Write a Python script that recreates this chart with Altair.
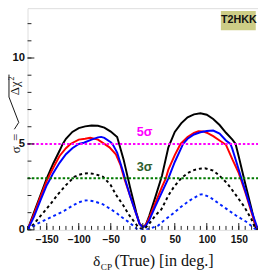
import altair as alt
import pandas as pd

# ---------------- data ----------------
black_solid_x = [-180, -170, -160, -150, -140, -130, -125, -120, -110, -100, -90, -80, -70, -60, -50, -40, -30, -20, -10, -5, 0,
                 5, 10, 20, 30, 40, 50, 60, 70, 80, 90, 100, 110, 120, 130, 140, 145, 150, 160, 170, 177, 180]
black_solid_y = [0.0, 1.0, 2.0, 3.0, 3.85, 4.6, 5.0, 5.3, 5.7, 5.92, 6.02, 6.07, 6.06, 5.95, 5.72, 5.4, 4.1, 2.5, 1.0, 0.35, 0.15,
                 0.3, 0.8, 1.95, 3.15, 4.8, 5.7, 6.2, 6.55, 6.72, 6.78, 6.7, 6.45, 6.1, 5.65, 5.25, 5.0, 4.25, 2.7, 1.2, 0.05, 0.0]

red_solid_x = [-180, -170, -160, -150, -140, -130, -120, -113, -100, -90, -82, -70, -60, -52, -42, -35, -29, -20, -10, -5, 0,
               5, 10, 20, 30, 36, 40, 50, 59, 70, 80, 87, 95, 100, 110, 120, 130, 140, 150, 160, 170, 175, 180]
red_solid_y = [0.0, 0.9, 1.9, 2.85, 3.6, 4.3, 4.75, 5.0, 5.25, 5.3, 5.36, 5.25, 5.0, 4.8, 4.4, 3.8, 3.0, 2.0, 0.9, 0.35, 0.15,
               0.3, 0.7, 1.6, 2.5, 3.0, 3.5, 4.35, 5.0, 5.4, 5.65, 5.74, 5.72, 5.65, 5.45, 5.2, 4.95, 4.1, 3.3, 2.2, 1.0, 0.4, 0.0]

blue_solid_x = [-180, -170, -160, -150, -144, -140, -130, -120, -110, -100, -92, -80, -70, -65, -60, -50, -47, -40, -30, -28, -20, -10, -5, 0,
                5, 10, 20, 30, 40, 50, 63, 70, 80, 90, 100, 110, 120, 130, 137, 140, 150, 154, 160, 170, 180]
blue_solid_y = [0.0, 0.75, 1.7, 2.6, 3.0, 3.3, 3.9, 4.4, 4.75, 5.0, 5.07, 5.25, 5.38, 5.41, 5.35, 5.1, 4.98, 4.5, 3.3, 3.0, 2.0, 0.9, 0.35, 0.15,
                0.25, 0.55, 1.4, 2.2, 3.0, 3.95, 5.0, 5.3, 5.55, 5.68, 5.75, 5.78, 5.6, 5.2, 5.0, 4.7, 3.5, 3.0, 2.3, 1.1, 0.0]

black_dash_x = [-180, -170, -160, -153, -140, -133, -120, -107, -100, -92, -85, -75, -62, -50, -42, -30, -22, -10, -5, 0,
                5, 10, 20, 29, 40, 49, 60, 70, 80, 89, 97, 110, 120, 132, 145, 158, 170, 175, 180]
black_dash_y = [0.0, 0.35, 0.8, 1.1, 1.7, 2.05, 2.6, 3.08, 3.2, 3.28, 3.3, 3.25, 3.09, 2.6, 2.05, 1.4, 0.9, 0.3, 0.1, 0.05,
                0.15, 0.35, 0.85, 1.19, 2.0, 2.52, 3.0, 3.3, 3.48, 3.56, 3.58, 3.45, 3.15, 2.7, 2.05, 1.38, 0.6, 0.15, 0.0]

blue_dash_x = [-180, -175, -165, -153, -140, -123, -110, -100, -92, -85, -75, -62, -50, -40, -32, -20, -9, 0,
               10, 24, 35, 49, 60, 75, 89, 94, 105, 120, 132, 145, 163, 177, 180]
blue_dash_y = [0.0, 0.1, 0.35, 0.57, 0.8, 1.1, 1.4, 1.6, 1.7, 1.72, 1.65, 1.48, 1.2, 0.95, 0.72, 0.4, 0.05, 0.0,
               0.05, 0.25, 0.6, 1.0, 1.35, 1.75, 2.05, 2.07, 1.9, 1.5, 1.19, 0.85, 0.44, 0.0, 0.0]

sigma_levels = [5, 3]
sigma_labels = ["5σ", "3σ"]
sigma_line_colors = ["#ff00ff", "#007a00"]
sigma_text_colors = ["#ff00ff", "#2e5e2e"]

x_labels = [-150, -100, -50, 0, 50, 100, 150]
y_labels = [0, 5, 10]
x_minor = list(range(-180, 181, 10))
y_minor = list(range(0, 13))

X_DOMAIN = [-180, 180]
Y_DOMAIN = [0, 12.9]
W, H = 236, 227

LABEL_FONT = "Liberation Sans, Arial"
SERIF = "Liberation Serif, Times New Roman, serif"

xs = alt.Scale(domain=X_DOMAIN, nice=False, zero=False)
ys = alt.Scale(domain=Y_DOMAIN, nice=False, zero=False)

X_AXIS = alt.Axis(values=x_labels, title=None, grid=False, domain=False, ticks=False,
                  labelOverlap=False, labelFlush=False, labelBound=False,
                  labelFont=LABEL_FONT, labelFontSize=10.5, labelFontWeight="bold",
                  labelColor="#111", labelPadding=5)
Y_AXIS = alt.Axis(values=y_labels, title=None, grid=False, domain=False, ticks=False,
                  labelOverlap=False, labelFlush=False, labelBound=False,
                  labelFont=LABEL_FONT, labelFontSize=11.5, labelFontWeight="bold",
                  labelColor="#111", labelPadding=3)


def X(field):
    return alt.X(field, scale=xs, axis=X_AXIS)


def Y(field):
    return alt.Y(field, scale=ys, axis=Y_AXIS)


def curve(xv, yv, color, dash=None):
    df = pd.DataFrame({"d": xv, "s": yv})
    kw = dict(color=color, strokeWidth=2, clip=True)
    if dash:
        kw["strokeDash"] = dash
    return alt.Chart(df).mark_line(**kw).encode(x=X("d:Q"), y=Y("s:Q"))


layers = []
layers.append(curve(black_solid_x, black_solid_y, "#000000"))
layers.append(curve(red_solid_x, red_solid_y, "#ff0000"))
layers.append(curve(blue_solid_x, blue_solid_y, "#0000ff"))
layers.append(curve(black_dash_x, black_dash_y, "#000000", [3, 3]))
layers.append(curve(blue_dash_x, blue_dash_y, "#0022ff", [3, 3]))

# sigma reference lines
for lvl, col in zip(sigma_levels, sigma_line_colors):
    layers.append(alt.Chart(pd.DataFrame({"a": [X_DOMAIN[0]], "b": [X_DOMAIN[1]], "s": [lvl]})).mark_rule(
        color=col, strokeWidth=2, strokeDash=[2.5, 2]).encode(x=X("a:Q"), x2="b:Q", y=Y("s:Q")))

# sigma labels
lab_df = pd.DataFrame({"d": [-9.5, -9.5], "s": [5.68, 3.64], "t": sigma_labels, "c": sigma_text_colors})
layers.append(alt.Chart(lab_df).mark_text(align="left", baseline="middle", font="Liberation Sans", fontSize=13,
                                          fontWeight="bold").encode(
    x=X("d:Q"), y=Y("s:Q"), text="t:N", color=alt.Color("c:N", scale=None)))

# inside ticks
def xticks(vals, length):
    return alt.Chart(pd.DataFrame({"d": vals})).mark_rule(color="#222", strokeWidth=1).encode(
        x=X("d:Q"), y=alt.value(H), y2=alt.value(H - length))

def yticks(vals, length):
    return alt.Chart(pd.DataFrame({"s": vals})).mark_rule(color="#222", strokeWidth=1).encode(
        y=Y("s:Q"), x=alt.value(0), x2=alt.value(length))

layers.append(xticks(x_minor, 4))
layers.append(xticks(x_labels, 7))
layers.append(yticks(y_minor, 4))
layers.append(yticks(y_labels, 7))

# experiment label box
box_df = pd.DataFrame({"x1": [122.0], "x2": [176.5], "y1": [11.62], "y2": [12.73], "t": ["T2HKK"]})
layers.append(alt.Chart(box_df).mark_rect(color="#cdcd86").encode(
    x=X("x1:Q"), x2="x2:Q", y=Y("y1:Q"), y2="y2:Q"))
layers.append(alt.Chart(box_df).mark_text(font=LABEL_FONT, fontSize=11, fontWeight="bold", color="#111",
                                          baseline="middle").encode(
    x=alt.value((198 + 235) / 2), y=alt.value(12.5), text="t:N"))

# text helper
def txt(t, x, y, size, font=SERIF, align="left", baseline="alphabetic", angle=None, color="#111"):
    kw = dict(font=font, fontSize=size, align=align, baseline=baseline, color=color)
    if angle is not None:
        kw["angle"] = angle
    return alt.Chart(pd.DataFrame({"t": [t]})).mark_text(**kw).encode(
        x=alt.value(x), y=alt.value(y), text="t:N")

def seg(x1, y1, x2, y2):
    return alt.Chart(pd.DataFrame({"a": [0]})).mark_rule(color="#111", strokeWidth=1).encode(
        x=alt.value(x1), y=alt.value(y1), x2=alt.value(x2), y2=alt.value(y2))

# x title pieces
layers.append(txt("δ", 67, 264, 16))
layers.append(txt("CP", 75, 268, 9.5))
layers.append(txt("(True) [in deg.]", 89, 264, 16.5))

# y title pieces (rotated): sigma = sqrt(Delta chi^2)
layers.append(txt("σ", -8, 145, 13, align="center", angle=270))
layers.append(txt("=", -12, 132, 13, align="center", baseline="middle", angle=270))
layers.append(txt("Δχ", -9, 82, 13, align="center", angle=270))
layers.append(txt("2", -14, 72, 8, align="center", angle=270))
layers.append(seg(-13.5, 124, -9, 117))   # radical hook
layers.append(seg(-9, 117, -19, 91))      # radical long stroke
layers.append(seg(-19, 91, -19, 68))      # radical bar

chart = alt.layer(*layers).properties(
    width=W, height=H,
    autosize=alt.AutoSizeParams(type="none"),
    padding={"left": 20, "top": -3, "right": 0, "bottom": 41},
).configure_view(stroke="#222", strokeWidth=1.3).configure_axis(labelOverlap=False).configure(background="white")

chart.save("out.html", embed_options={"renderer": "svg", "actions": False})
